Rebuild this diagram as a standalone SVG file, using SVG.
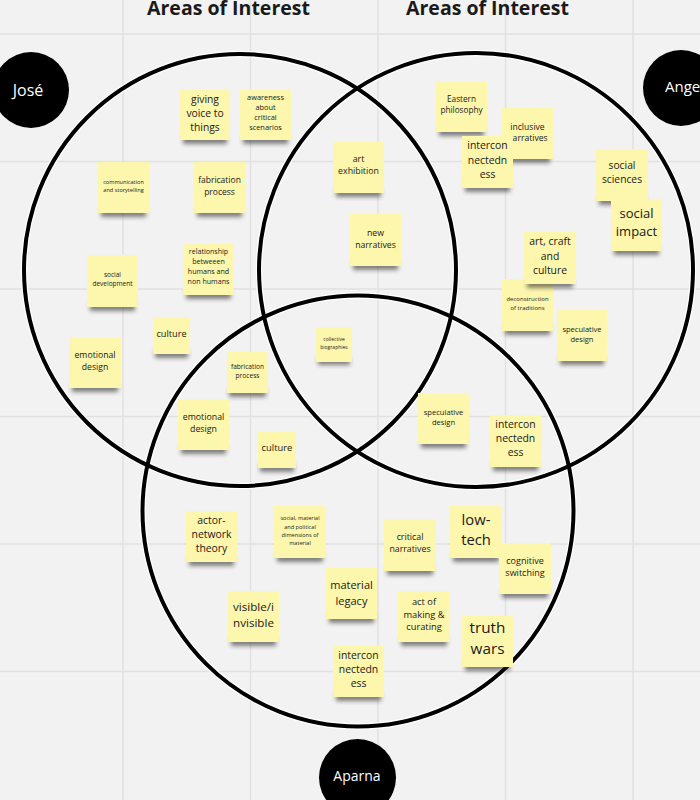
<svg xmlns="http://www.w3.org/2000/svg" width="700" height="800" viewBox="0 0 700 800">
<defs>
<filter id="blur" x="-30%" y="-100%" width="160%" height="300%"><feGaussianBlur stdDeviation="2"/></filter>
<style>
.grid{stroke:#e1e1e1;stroke-width:1.5}
.halo{fill:none;stroke:#ffffff;stroke-width:6.5}
.ring{fill:none;stroke:#000000;stroke-width:4}
.sh{fill:#222;opacity:.55;filter:url(#blur)}
.note{fill:#fdf6ad}
.t{font-family:"Open Sans","Noto Sans","Liberation Sans",sans-serif;fill:#1a1a1a;text-anchor:middle}
.title{font-family:"Open Sans","Noto Sans","Liberation Sans",sans-serif;font-weight:bold;font-size:19.5px;fill:#1a1a1a;text-anchor:middle}
.name{font-family:"Open Sans","Noto Sans","Liberation Sans",sans-serif;fill:#ffffff;text-anchor:middle}
</style>
</defs>
<rect x="0" y="0" width="700" height="800" fill="#f2f2f2"/>
<g id="grid">
<line class="grid" x1="123" y1="0" x2="123" y2="800"/>
<line class="grid" x1="250.5" y1="0" x2="250.5" y2="800"/>
<line class="grid" x1="378" y1="0" x2="378" y2="800"/>
<line class="grid" x1="505.5" y1="0" x2="505.5" y2="800"/>
<line class="grid" x1="633" y1="0" x2="633" y2="800"/>
<line class="grid" x1="0" y1="34" x2="700" y2="34"/>
<line class="grid" x1="0" y1="161.5" x2="700" y2="161.5"/>
<line class="grid" x1="0" y1="289" x2="700" y2="289"/>
<line class="grid" x1="0" y1="416.5" x2="700" y2="416.5"/>
<line class="grid" x1="0" y1="544" x2="700" y2="544"/>
<line class="grid" x1="0" y1="671.5" x2="700" y2="671.5"/>
</g>
<g id="titles">
<text class="title" x="228.5" y="15">Areas of Interest</text>
<text class="title" x="487.5" y="15">Areas of Interest</text>
</g>
<g id="connectors">
<circle class="halo" cx="240" cy="270" r="216"/>
<circle class="halo" cx="476" cy="270" r="217"/>
<circle class="halo" cx="358" cy="511" r="215.5"/>
<circle class="ring" cx="240" cy="270" r="216"/>
<circle class="ring" cx="476" cy="270" r="217"/>
<circle class="ring" cx="358" cy="511" r="215.5"/>
</g>
<g id="jose"><circle cx="31" cy="90" r="38" fill="#000"/><text class="name" x="28" y="96" font-size="16">José</text></g>
<g id="angel"><circle cx="681" cy="88" r="38" fill="#000"/><text class="name" x="665" y="92" font-size="15" style="text-anchor:start">Angel</text></g>
<g id="aparna"><circle cx="357.5" cy="777.5" r="38.5" fill="#000"/><text class="name" x="357" y="781" font-size="14">Aparna</text></g>

<g id="n-giving"><rect class="sh" x="183" y="135" width="44" height="9"/><rect class="note" x="180" y="89" width="50" height="51"/><text class="t" font-size="10.3"><tspan x="205" y="103.4">giving</tspan><tspan x="205" y="117.4">voice to</tspan><tspan x="205" y="131.4">things</tspan></text></g>
<g id="n-awareness"><rect class="sh" x="243" y="135" width="45" height="9"/><rect class="note" x="240" y="89" width="51" height="51"/><text class="t" font-size="7.4"><tspan x="265.5" y="100.4">awareness</tspan><tspan x="265.5" y="110.4">about</tspan><tspan x="265.5" y="120.4">critical</tspan><tspan x="265.5" y="130.4">scenarios</tspan></text></g>
<g id="n-eastern"><rect class="sh" x="439" y="127" width="45" height="9"/><rect class="note" x="436" y="81" width="51" height="51"/><text class="t" font-size="8.2"><tspan x="461.5" y="101.7">Eastern</tspan><tspan x="461.5" y="112.7">philosophy</tspan></text></g>
<g id="n-inclusive"><rect class="sh" x="505" y="154" width="45" height="9"/><rect class="note" x="502" y="108" width="51" height="51"/><text class="t" font-size="8.6"><tspan x="527.5" y="129.8">inclusive</tspan><tspan x="527.5" y="140.8">narratives</tspan></text></g>
<g id="n-intercon1"><rect class="sh" x="465" y="183" width="45" height="9"/><rect class="note" x="462" y="136" width="51" height="52"/><text class="t" font-size="10.4"><tspan x="487.5" y="149.4">intercon</tspan><tspan x="487.5" y="164.4">nectedn</tspan><tspan x="487.5" y="178.4">ess</tspan></text></g>
<g id="n-communication"><rect class="sh" x="101" y="208" width="45" height="9"/><rect class="note" x="98" y="162" width="51" height="51"/><text class="t" font-size="5.6"><tspan x="123.5" y="183.8">communication</tspan><tspan x="123.5" y="191.8">and storytelling</tspan></text></g>
<g id="n-fabrication1"><rect class="sh" x="197" y="208" width="45" height="9"/><rect class="note" x="194" y="162" width="51" height="51"/><text class="t" font-size="8.5"><tspan x="219.5" y="182.8">fabrication</tspan><tspan x="219.5" y="194.8">process</tspan></text></g>
<g id="n-art-exhibition"><rect class="sh" x="336" y="188" width="45" height="9"/><rect class="note" x="333" y="142" width="51" height="51"/><text class="t" font-size="8.8"><tspan x="358.5" y="161.9">art</tspan><tspan x="358.5" y="173.9">exhibition</tspan></text></g>
<g id="n-social-sciences"><rect class="sh" x="599" y="196" width="46" height="9"/><rect class="note" x="596" y="149" width="52" height="52"/><text class="t" font-size="10.3"><tspan x="622" y="169.4">social</tspan><tspan x="622" y="183.4">sciences</tspan></text></g>
<g id="n-social-impact"><rect class="sh" x="614" y="246" width="45" height="9"/><rect class="note" x="611" y="199" width="51" height="52"/><text class="t" font-size="13"><tspan x="636.5" y="218.3">social</tspan><tspan x="636.5" y="236.3">impact</tspan></text></g>
<g id="n-new-narratives"><rect class="sh" x="353" y="261" width="45" height="9"/><rect class="note" x="350" y="214" width="51" height="52"/><text class="t" font-size="8.7"><tspan x="375.5" y="235.9">new</tspan><tspan x="375.5" y="247.9">narratives</tspan></text></g>
<g id="n-deconstruction"><rect class="sh" x="505" y="326" width="45" height="9"/><rect class="note" x="502" y="279" width="51" height="52"/><text class="t" font-size="6"><tspan x="527.5" y="301">deconstruction</tspan><tspan x="527.5" y="310">of traditions</tspan></text></g>
<g id="n-art-craft"><rect class="sh" x="527" y="279" width="46" height="9"/><rect class="note" x="524" y="232" width="52" height="52"/><text class="t" font-size="10.4"><tspan x="550" y="245.4">art, craft</tspan><tspan x="550" y="260.4">and</tspan><tspan x="550" y="274.4">culture</tspan></text></g>
<g id="n-relationship"><rect class="sh" x="186" y="290" width="45" height="9"/><rect class="note" x="183" y="244" width="51" height="51"/><text class="t" font-size="7.1"><tspan x="208.5" y="254.3">relationship</tspan><tspan x="208.5" y="264.3">betweeen</tspan><tspan x="208.5" y="274.3">humans and</tspan><tspan x="208.5" y="284.3">non humans</tspan></text></g>
<g id="n-social-development"><rect class="sh" x="90" y="302" width="45" height="9"/><rect class="note" x="87" y="255" width="51" height="52"/><text class="t" font-size="6.5"><tspan x="112.5" y="277.1">social</tspan><tspan x="112.5" y="286.1">development</tspan></text></g>
<g id="n-speculative1"><rect class="sh" x="560" y="356" width="44" height="9"/><rect class="note" x="557" y="310" width="50" height="51"/><text class="t" font-size="7.5"><tspan x="582" y="331.5">speculative</tspan><tspan x="582" y="341.5">design</tspan></text></g>
<g id="n-collective"><rect class="sh" x="318" y="358" width="32" height="7"/><rect class="note" x="316" y="327" width="36" height="35"/><text class="t" font-size="5"><tspan x="334" y="340.7">collective</tspan><tspan x="334" y="348.7">biographies</tspan></text></g>
<g id="n-culture1"><rect class="sh" x="155" y="350" width="33" height="8"/><rect class="note" x="153" y="317" width="37" height="37"/><text class="t" font-size="9.2"><tspan x="171.5" y="337">culture</tspan></text></g>
<g id="n-emotional1"><rect class="sh" x="72" y="383" width="46" height="9"/><rect class="note" x="69" y="337" width="52" height="51"/><text class="t" font-size="8.7"><tspan x="95" y="357.9">emotional</tspan><tspan x="95" y="369.9">design</tspan></text></g>
<g id="n-fabrication2"><rect class="sh" x="229" y="389" width="37" height="8"/><rect class="note" x="227" y="352" width="41" height="41"/><text class="t" font-size="6.6"><tspan x="247.5" y="369.2">fabrication</tspan><tspan x="247.5" y="378.2">process</tspan></text></g>
<g id="n-emotional2"><rect class="sh" x="181" y="445" width="45" height="9"/><rect class="note" x="178" y="399" width="51" height="51"/><text class="t" font-size="8.8"><tspan x="203.5" y="419.9">emotional</tspan><tspan x="203.5" y="431.9">design</tspan></text></g>
<g id="n-culture2"><rect class="sh" x="260" y="464" width="34" height="8"/><rect class="note" x="258" y="432" width="38" height="36"/><text class="t" font-size="9.4"><tspan x="277" y="451.1">culture</tspan></text></g>
<g id="n-speculative2"><rect class="sh" x="421" y="439" width="45" height="9"/><rect class="note" x="418" y="393" width="51" height="51"/><text class="t" font-size="7.6"><tspan x="443.5" y="414.5">speculative</tspan><tspan x="443.5" y="424.5">design</tspan></text></g>
<g id="n-intercon2"><rect class="sh" x="493" y="462" width="45" height="9"/><rect class="note" x="490" y="415" width="51" height="52"/><text class="t" font-size="10.4"><tspan x="515.5" y="428.4">intercon</tspan><tspan x="515.5" y="442.4">nectedn</tspan><tspan x="515.5" y="456.4">ess</tspan></text></g>
<g id="n-actor"><rect class="sh" x="189" y="557" width="45" height="9"/><rect class="note" x="186" y="511" width="51" height="51"/><text class="t" font-size="10.4"><tspan x="211.5" y="524.4">actor-</tspan><tspan x="211.5" y="538.4">network</tspan><tspan x="211.5" y="552.4">theory</tspan></text></g>
<g id="n-social-material"><rect class="sh" x="277" y="553" width="46" height="9"/><rect class="note" x="274" y="506" width="52" height="52"/><text class="t" font-size="5.6"><tspan x="300" y="519.8">social, material</tspan><tspan x="300" y="528.8">and political</tspan><tspan x="300" y="536.8">dimensions of</tspan><tspan x="300" y="544.8">material</tspan></text></g>
<g id="n-critical"><rect class="sh" x="387" y="566" width="46" height="9"/><rect class="note" x="384" y="519" width="52" height="52"/><text class="t" font-size="8.8"><tspan x="410" y="539.9">critical</tspan><tspan x="410" y="551.9">narratives</tspan></text></g>
<g id="n-low-tech"><rect class="sh" x="453" y="553" width="46" height="9"/><rect class="note" x="450" y="506" width="52" height="52"/><text class="t" font-size="14.8"><tspan x="476" y="524.9">low-</tspan><tspan x="476" y="544.9">tech</tspan></text></g>
<g id="n-cognitive"><rect class="sh" x="502" y="589" width="46" height="9"/><rect class="note" x="499" y="543" width="52" height="51"/><text class="t" font-size="9"><tspan x="525" y="564">cognitive</tspan><tspan x="525" y="576">switching</tspan></text></g>
<g id="n-material-legacy"><rect class="sh" x="329" y="614" width="45" height="9"/><rect class="note" x="326" y="568" width="51" height="51"/><text class="t" font-size="11"><tspan x="351.5" y="588.6">material</tspan><tspan x="351.5" y="604.6">legacy</tspan></text></g>
<g id="n-visible"><rect class="sh" x="231" y="637" width="45" height="9"/><rect class="note" x="228" y="591" width="51" height="51"/><text class="t" font-size="11.6"><tspan x="253.5" y="610.8">visible/i</tspan><tspan x="253.5" y="626.8">nvisible</tspan></text></g>
<g id="n-act"><rect class="sh" x="401" y="637" width="46" height="9"/><rect class="note" x="398" y="591" width="52" height="51"/><text class="t" font-size="9.3"><tspan x="424" y="605.1">act of</tspan><tspan x="424" y="618.1">making &amp;</tspan><tspan x="424" y="630.1">curating</tspan></text></g>
<g id="n-truth"><rect class="sh" x="465" y="662" width="45" height="9"/><rect class="note" x="462" y="616" width="51" height="51"/><text class="t" font-size="15.3"><tspan x="487.5" y="633">truth</tspan><tspan x="487.5" y="654">wars</tspan></text></g>
<g id="n-intercon3"><rect class="sh" x="336" y="692" width="45" height="9"/><rect class="note" x="333" y="646" width="51" height="51"/><text class="t" font-size="10.4"><tspan x="358.5" y="659.4">intercon</tspan><tspan x="358.5" y="673.4">nectedn</tspan><tspan x="358.5" y="687.4">ess</tspan></text></g>
</svg>
